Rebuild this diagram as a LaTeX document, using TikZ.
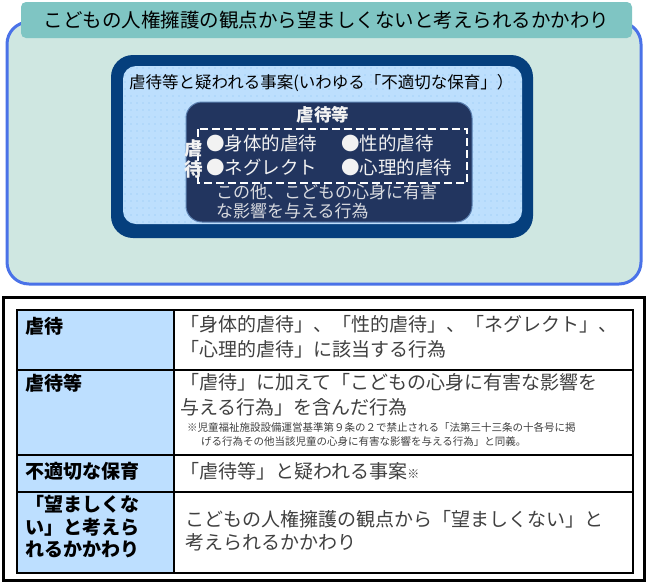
\documentclass[tikz,border=0pt]{standalone}
\usepackage{fontspec}
\setmainfont{Noto Sans CJK JP}
\definecolor{tealbg}{HTML}{CFE7E1}
\definecolor{titleteal}{HTML}{7FC5C3}
\definecolor{outerblue}{HTML}{4A72E8}
\definecolor{navy}{HTML}{053F7D}
\definecolor{lightblue}{HTML}{BDDFFD}
\definecolor{dotcol}{HTML}{8CC2F2}
\definecolor{darkbox}{HTML}{22355F}
\definecolor{darkboxline}{HTML}{5A7FB0}
\definecolor{tablelb}{HTML}{BDDFFF}
\definecolor{textgray}{HTML}{404040}
\definecolor{softwhite}{HTML}{F2F2F2}
\begin{document}
\begin{tikzpicture}[x=1pt,y=-1pt,
  txt/.style={inner sep=0pt, anchor=west, align=left},
  wtxt/.style={txt, text=softwhite},
  lbl/.style={txt, font=\fontsize{19}{22.5}\selectfont\bfseries},
  cell/.style={txt, text=textgray, font=\fontsize{19}{24.5}\selectfont},
  note/.style={txt, text=textgray, font=\fontsize{10.5}{13}\selectfont}]
\useasboundingbox (0,0) rectangle (650,582);
% ---------- upper panel ----------
\draw[outerblue, line width=3pt, fill=tealbg, rounded corners=22pt] (7,22) rectangle (641,284);
\node[fill=titleteal, rounded corners=5pt, minimum width=611pt, minimum height=36pt, inner sep=0pt,
  font=\fontsize{19.5}{22}\selectfont] (title) at (326.5,20)
  {こどもの人権擁護の観点から望ましくないと考えられるかかわり};
\fill[navy, rounded corners=22pt] (111,55) rectangle (533,238);
\fill[lightblue, rounded corners=13pt] (123,66) rectangle (522,224);
\begin{scope}
  \clip[rounded corners=13pt] (123,66) rectangle (522,224);
  \foreach \x in {125,131,...,521} {
    \foreach \y in {68,75,...,224} {
      \fill[dotcol] (\x,\y) circle (0.6pt);
    }
  }
\end{scope}
\node[txt, font=\fontsize{16.5}{20}\selectfont] (case) at (129,83)
  {虐待等と疑われる事案(いわゆる「不適切な保育」）};
\draw[darkboxline, fill=darkbox, line width=1pt, rounded corners=16pt] (186,102) rectangle (472,222);
\node[inner sep=0pt, text=softwhite, font=\fontsize{17.5}{20}\selectfont\bfseries] (abuseetc) at (323,115) {虐待等};
\draw[white, dashed, dash pattern=on 8pt off 4pt, line width=1.6pt] (198,129) rectangle (467,183);
\node[inner sep=0pt, text=softwhite, font=\fontsize{18.5}{20}\selectfont\bfseries] (v1) at (194,148) {虐};
\node[inner sep=0pt, text=softwhite, font=\fontsize{18.5}{20}\selectfont\bfseries] (v2) at (194,169) {待};
\node[wtxt, font=\fontsize{18.5}{20}\selectfont] (i1) at (206,143) {●身体的虐待};
\node[wtxt, font=\fontsize{18.5}{20}\selectfont] (i2) at (341,143) {●性的虐待};
\node[wtxt, font=\fontsize{18.5}{20}\selectfont] (i3) at (206,167) {●ネグレクト};
\node[wtxt, font=\fontsize{18.5}{20}\selectfont] (i4) at (341,167) {●心理的虐待};
\node[txt, text=softwhite!88!darkbox, font=\fontsize{17}{19}\selectfont] (other) at (216,202)
  {この他、こどもの心身に有害\\な影響を与える行為};
% ---------- table ----------
\draw[line width=3pt, fill=white] (3,297) rectangle (644,580);
\fill[tablelb] (17,310) rectangle (174,573);
\draw[line width=1.6pt] (17,310) rectangle (633,573);
\draw[line width=1.6pt] (174,310) -- (174,573);
\draw[line width=1.6pt] (17,370) -- (633,370);
\draw[line width=1.6pt] (17,455) -- (633,455);
\draw[line width=1.6pt] (17,492) -- (633,492);
% left labels
\node[lbl] (l1) at (25,326) {虐待};
\node[lbl] (l2) at (25,383) {虐待等};
\node[lbl] (l3) at (25,471) {不適切な保育};
\node[lbl] (l4) at (25,527) {「望ましくな\\い」と考えら\\れるかかわり};
% right cells
\node[cell] (c1) at (180,337) {「身体的虐待」、「性的虐待」、「ネグレクト」、\\「心理的虐待」に該当する行為};
\node[cell] (c2) at (180,395) {「虐待」に加えて「こどもの心身に有害な影響を\\与える行為」を含んだ行為};
\node[note] (n1) at (187,427) {※児童福祉施設設備運営基準第９条の２で禁止される「法第三十三条の十各号に掲};
\node[note] (n2) at (201,442) {げる行為その他当該児童の心身に有害な影響を与える行為」と同義。};
\node[cell] (c3) at (180,471) {「虐待等」と疑われる事案{\fontsize{12}{14}\selectfont ※}};
\node[cell, font=\fontsize{19}{23}\selectfont] (c4) at (185,531) {こどもの人権擁護の観点から「望ましくない」と\\考えられるかかわり};
\end{tikzpicture}
\end{document}
